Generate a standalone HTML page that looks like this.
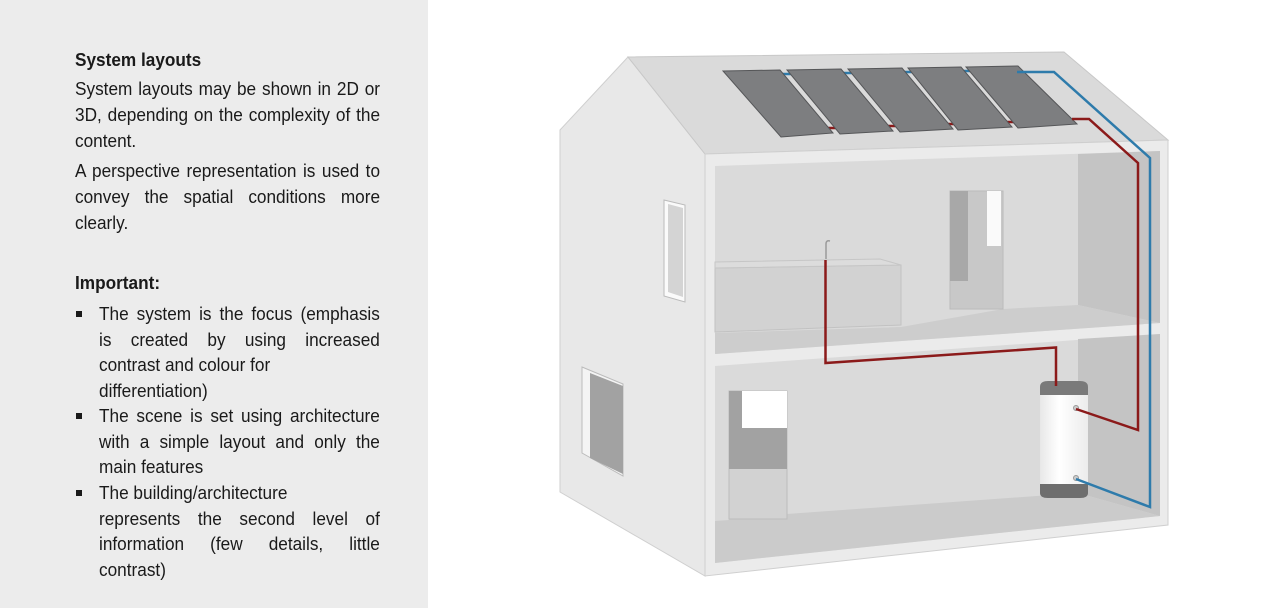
<!DOCTYPE html>
<html><head><meta charset="utf-8"><style>
body{margin:0;width:1280px;height:608px;overflow:hidden;background:#fff;position:relative;font-family:"Liberation Sans",sans-serif;}
#panel{position:absolute;left:0;top:0;width:428px;height:608px;background:#ececec;}
.l{position:absolute;left:75px;width:328px;height:25px;line-height:25px;font-size:18.5px;color:#1a1a1a;white-space:nowrap;transform:scaleX(0.93);transform-origin:0 0;}
.b{left:99px;width:302px;}
.j{text-align:justify;text-align-last:justify;}
.h{font-weight:bold;}
.sq{position:absolute;left:76px;width:6px;height:6px;background:#1a1a1a;}
svg{position:absolute;left:0;top:0;}
</style></head><body>
<div id="panel"></div>
<div class="l h" style="top:47px">System layouts</div>
<div class="l j" style="top:76px">System layouts may be shown in 2D or</div>
<div class="l j" style="top:102px">3D, depending on the complexity of the</div>
<div class="l" style="top:128px">content.</div>
<div class="l j" style="top:158px">A perspective representation is used to</div>
<div class="l j" style="top:184px">convey the spatial conditions more</div>
<div class="l" style="top:210px">clearly.</div>
<div class="l h" style="top:270px">Important:</div>
<div class="sq" style="top:311px"></div>
<div class="l b j" style="top:301px">The system is the focus (emphasis</div>
<div class="l b j" style="top:327px">is created by using increased</div>
<div class="l b" style="top:352px">contrast and colour for</div>
<div class="l b" style="top:378px">differentiation)</div>
<div class="sq" style="top:413px"></div>
<div class="l b j" style="top:403px">The scene is set using architecture</div>
<div class="l b j" style="top:429px">with a simple layout and only the</div>
<div class="l b" style="top:454px">main features</div>
<div class="sq" style="top:490px"></div>
<div class="l b" style="top:480px">The building/architecture</div>
<div class="l b j" style="top:506px">represents the second level of</div>
<div class="l b j" style="top:531px">information (few details, little</div>
<div class="l b" style="top:557px">contrast)</div>

<svg width="1280" height="608" viewBox="0 0 1280 608">
<defs><linearGradient id="tk" x1="0" x2="1"><stop offset="0" stop-color="#e8e8e8"/><stop offset="0.4" stop-color="#fff"/><stop offset="1" stop-color="#ececec"/></linearGradient></defs>
<polygon points="628,57 560,130 560,492 705,576 705,154" fill="#e8e8e8" stroke="#cfcfcf" stroke-width="1"/>
<polygon points="628,57 1064,52 1168,140 705,154" fill="#dadada" stroke="#c8c8c8" stroke-width="1"/>
<polygon points="705,154 1168,140 1168,525 705,576" fill="#ebebeb" stroke="#cfcfcf" stroke-width="1"/>
<polygon points="715,166 1160,151 1160,323 715,354" fill="#dadada"/>
<polygon points="1078,154 1160,151 1160,323 1078,305" fill="#c4c4c4"/>
<polygon points="715,333 901,327 1003,309 1078,305 1160,323 715,354" fill="#cdcdcd"/>
<polygon points="715,268 901,265 901,325 715,332" fill="#d2d2d2" stroke="#c2c2c2"/>
<polygon points="715,262 880,259 901,265 715,268" fill="#dcdcdc" stroke="#c6c6c6"/>
<path d="M826,259 v-15 q0,-4 4,-3" fill="none" stroke="#9a9a9a" stroke-width="1.5"/>
<rect x="950" y="191" width="53" height="118" fill="#c8c8c8" stroke="#bbb"/>
<rect x="950" y="191" width="18" height="90" fill="#a8a8a8"/>
<rect x="987" y="191" width="14" height="55" fill="#fafafa"/>
<polygon points="715,366 1160,334 1160,516 715,563" fill="#dadada"/>
<polygon points="1078,339 1160,334 1160,516 1078,493" fill="#c4c4c4"/>
<polygon points="715,521 729,520 729,510 787,514 1078,493 1160,516 715,563" fill="#cbcbcb"/>
<rect x="729" y="391" width="58" height="128" fill="#d2d2d2" stroke="#bcbcbc"/>
<rect x="729" y="391" width="58" height="78" fill="#a2a2a2"/>
<rect x="742" y="391" width="45" height="37" fill="#fff"/>
<polygon points="664,200 685,205 685,302 664,296" fill="#fafafa" stroke="#bbb"/>
<polygon points="668,204 683,208 683,297 668,292" fill="#d4d4d4"/>
<polygon points="582,367 623,384 623,476 582,453" fill="#f4f4f4" stroke="#bbb"/>
<polygon points="590,373 623,386 623,474 590,458" fill="#a2a2a2"/>
<g stroke="#2e7bab" stroke-width="2.5"><line x1="778" y1="74" x2="792" y2="74"/><line x1="838" y1="73" x2="852" y2="73"/><line x1="898" y1="72" x2="912" y2="72"/><line x1="957" y1="71" x2="970" y2="71"/></g>
<g stroke="#8b1a1a" stroke-width="2.5"><line x1="828" y1="128" x2="844" y2="128"/><line x1="888" y1="126" x2="903" y2="126"/><line x1="948" y1="124" x2="963" y2="124"/><line x1="1007" y1="122" x2="1022" y2="122"/></g>
<g fill="#7d7e80" stroke="#555658" stroke-width="1">
<polygon points="723,71 780,70 833,133 781,137"/>
<polygon points="787,70 841,69 893,131 840,134"/>
<polygon points="848,69 902,68 953,129 900,132"/>
<polygon points="908,68 961,67 1012,127 958,130"/>
<polygon points="966,67 1018,66 1077,124 1018,128"/>
</g>
<rect x="1040" y="388" width="48" height="102" fill="url(#tk)"/>
<path d="M1040,395 v-8 q0,-6 8,-6 h32 q8,0 8,6 v8 z" fill="#7a7a7a"/>
<path d="M1040,484 h48 v9 q0,5 -8,5 h-32 q-8,0 -8,-5 z" fill="#6e6e6e"/>
<circle cx="1076" cy="408" r="2.5" fill="#ccc" stroke="#999"/>
<circle cx="1076" cy="478" r="2.5" fill="#ccc" stroke="#999"/>
<g fill="none" stroke-width="2.5" stroke-linejoin="miter">
<polyline stroke="#2e7bab" points="1017,72 1054,72 1150,158 1150,507 1076,479"/>
<polyline stroke="#8b1a1a" points="1072,119 1089,119 1138,163 1138,430 1076,409"/>
<polyline stroke="#8b1a1a" points="825.5,260 825.5,363 1056,347.5 1056,386"/>
</g>
</svg>
</body></html>
